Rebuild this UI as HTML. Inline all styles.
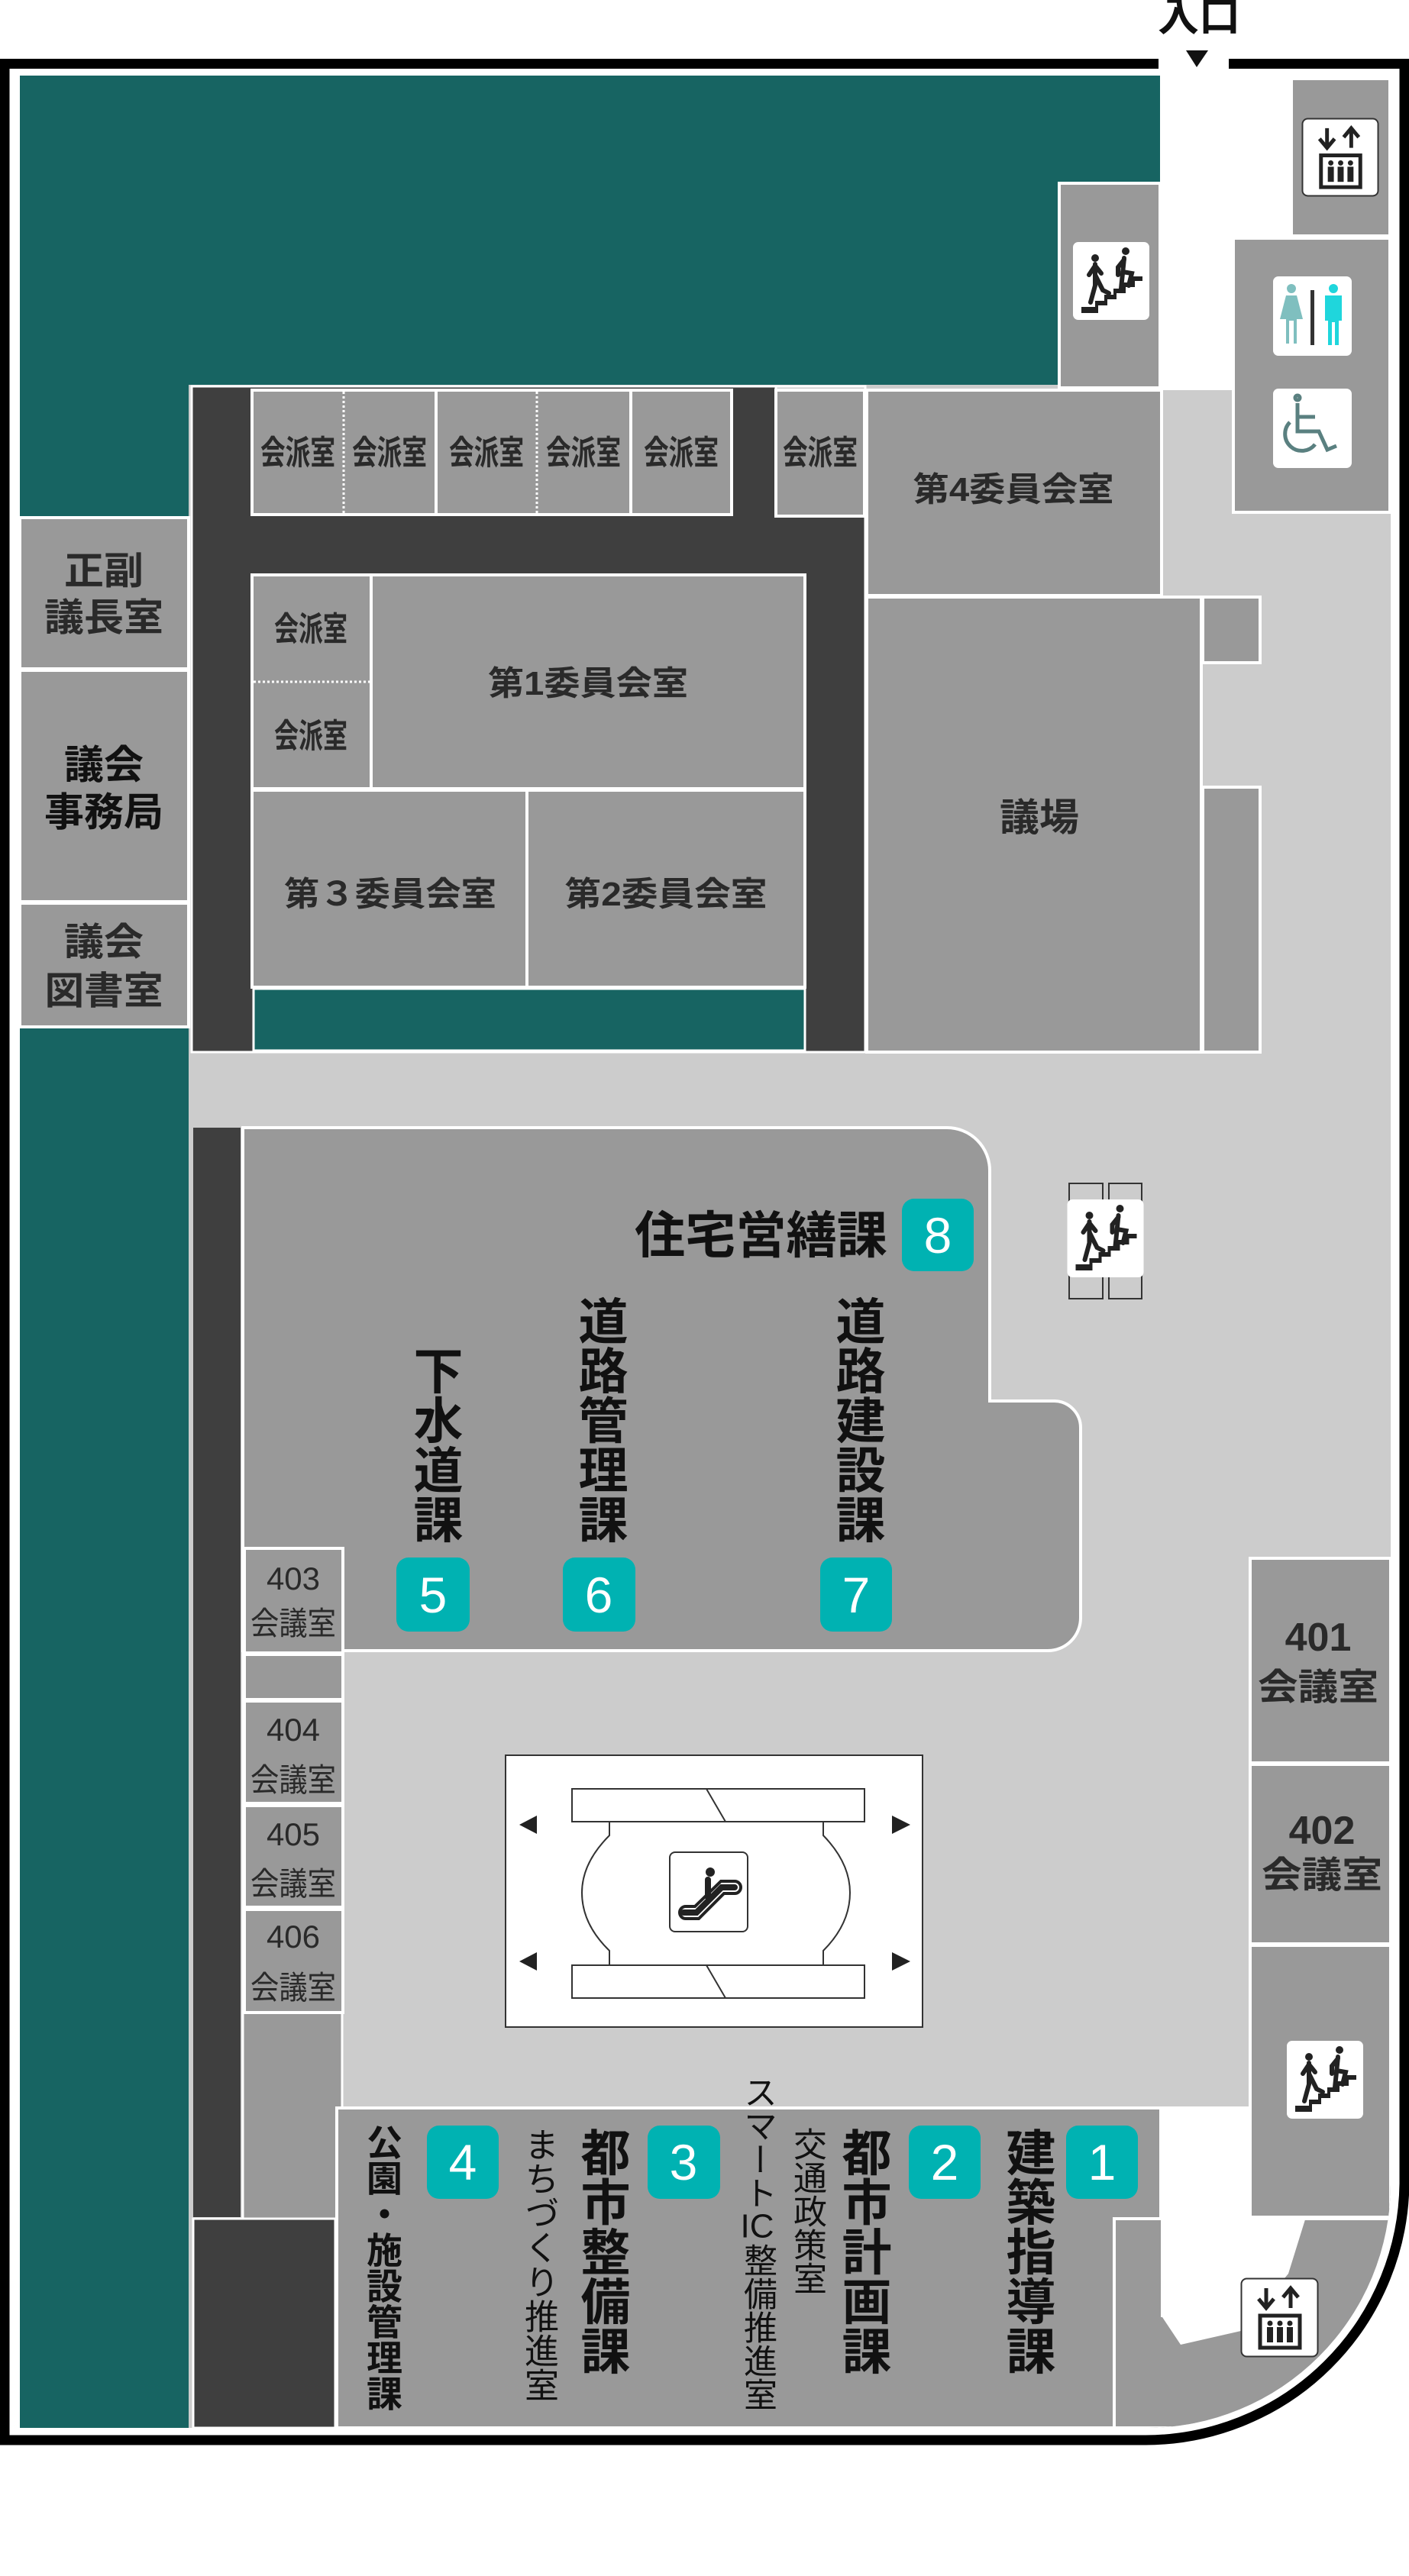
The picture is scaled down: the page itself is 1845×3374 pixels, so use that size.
<!DOCTYPE html>
<html><head><meta charset="utf-8">
<style>
html,body{margin:0;padding:0;background:#fff;}
#wrap{position:relative;width:1845px;height:3374px;overflow:hidden;font-family:"Liberation Sans","Noto Sans CJK JP",sans-serif;}
svg{position:absolute;left:0;top:0;}
svg text{font-family:"Liberation Sans","Noto Sans CJK JP",sans-serif;}
.v{position:absolute;writing-mode:vertical-rl;color:#111;font-weight:bold;line-height:1;white-space:nowrap;}
.tcy{text-combine-upright:all;}
</style></head><body><div id="wrap">
<svg width="1845" height="3374" viewBox="0 0 1845 3374" xmlns="http://www.w3.org/2000/svg">
<defs>
<clipPath id="cl"><path d="M26,99 H1821 V2860 A320,320 0 0 1 1501,3180 H26 Z"/></clipPath>
<symbol id="stair" viewBox="0 0 102 104">
<rect x="1" y="1" width="100" height="102" rx="7" fill="#fff"/>
<path d="M12,94 V86 H30 V78 H42 V70 H54 V62 H66 V54 H78 V46 H92 V52 H82 V60 H70 V68 H58 V76 H46 V84 H34 V94 Z" fill="#222"/>
<circle cx="30" cy="22" r="5" fill="#222"/><circle cx="70" cy="13" r="5" fill="#222"/>
<path d="M30,30 L30,58 L24,80 M30,44 L40,64 L48,68 M30,32 L22,44 M30,32 L38,42" stroke="#222" stroke-width="6" fill="none" stroke-linecap="round"/>
<path d="M68,22 L64,62 M66,40 L78,42 L74,58 M68,24 L60,34 L60,44" stroke="#222" stroke-width="6" fill="none" stroke-linecap="round"/>
</symbol>
<symbol id="elev" viewBox="0 0 103 105">
<rect x="1.5" y="1.5" width="100" height="102" rx="7" fill="#fff" stroke="#333" stroke-width="2"/>
<path d="M34,14 V38 M24,28 L34,40 L44,28 M66,40 V16 M56,26 L66,14 L76,26" stroke="#222" stroke-width="5" fill="none"/>
<rect x="26" y="50" width="52" height="42" fill="none" stroke="#222" stroke-width="5"/>
<g fill="#222"><circle cx="39" cy="60" r="3.5"/><circle cx="52" cy="60" r="3.5"/><circle cx="65" cy="60" r="3.5"/>
<rect x="35" y="65" width="8" height="20"/><rect x="48" y="65" width="8" height="20"/><rect x="61" y="65" width="8" height="20"/></g>
</symbol>
</defs>

<g clip-path="url(#cl)">
<rect x="0" y="0" width="1845" height="3374" fill="#fff"/>
<rect x="247" y="504" width="1574" height="2676" fill="#cccccc"/>
<rect x="26" y="99" width="1493" height="405" fill="#176462"/>
<rect x="26" y="99" width="221" height="577" fill="#176462"/>
<rect x="26" y="1347" width="221" height="1833" fill="#176462"/>
<rect x="1519" y="99" width="96" height="412" fill="#fff"/>
<rect x="1615" y="99" width="206" height="213" fill="#fff"/>
<rect x="1691" y="103" width="129" height="206" fill="#999" stroke="#fff" stroke-width="4"/>
<rect x="1615" y="312" width="205" height="359" fill="#999" stroke="#fff" stroke-width="4"/>
<rect x="1387" y="240" width="132" height="268" fill="#999" stroke="#fff" stroke-width="4"/>
<g fill="#999" stroke="#fff" stroke-width="4">
<rect x="26" y="678" width="221" height="198"/>
<rect x="26" y="878" width="221" height="303"/>
<rect x="26" y="1183" width="221" height="162"/>
</g>
<rect x="251" y="506" width="765" height="170" fill="#3f3f3f" stroke="#fff" stroke-width="3"/>
<rect x="251" y="674" width="882" height="704" fill="#3f3f3f"/>
<rect x="251" y="506" width="882" height="872" fill="none" stroke="#fff" stroke-width="3"/>
<g fill="#999" stroke="#fff" stroke-width="4">
<rect x="330" y="511" width="241" height="163"/>
<rect x="571" y="511" width="255" height="163"/>
<rect x="826" y="511" width="132" height="163"/>
<rect x="1016" y="511" width="116" height="165"/>
<rect x="1135" y="511" width="386" height="269"/>
<rect x="330" y="753" width="156" height="280"/>
<rect x="486" y="753" width="568" height="280"/>
<rect x="330" y="1035" width="360" height="258"/>
<rect x="690" y="1035" width="364" height="258"/>
<rect x="1135" y="782" width="438" height="596"/>
<rect x="1575" y="782" width="75" height="86"/>
<rect x="1575" y="1031" width="75" height="347"/>
</g>
<rect x="332" y="1295" width="722" height="81" fill="#176462" stroke="#fff" stroke-width="3"/>
<g stroke="#fff" stroke-width="3" stroke-dasharray="3,3">
<line x1="450" y1="513" x2="450" y2="673"/><line x1="703" y1="513" x2="703" y2="673"/>
<line x1="332" y1="893" x2="484" y2="893"/></g>

<rect x="253" y="1477" width="62" height="1427" fill="#3f3f3f"/>
<path d="M318,1477 H1240 A56,56 0 0 1 1296,1533 V1835 H1381 A35,35 0 0 1 1415,1870 V2119 A43,43 0 0 1 1372,2162 H318 Z" fill="#999" stroke="#fff" stroke-width="4"/>
<rect x="318" y="2162" width="130" height="744" fill="#999" stroke="#fff" stroke-width="3"/>
<rect x="441" y="2761" width="1079" height="419" fill="#999" stroke="#fff" stroke-width="4"/>
<rect x="1459" y="2906" width="362" height="274" fill="#999" stroke="#fff" stroke-width="4"/>
<path d="M1520,2759 H1637 V2904 H1710 L1687,2978 L1625,3053 L1546,3071 L1522,3035 H1520 Z" fill="#fff"/>
<rect x="253" y="2906" width="186" height="274" fill="#3f3f3f" stroke="#fff" stroke-width="3"/>
<g fill="#999" stroke="#fff" stroke-width="4">
<rect x="320" y="2028" width="129" height="137"/>
<rect x="320" y="2167" width="129" height="59"/>
<rect x="320" y="2228" width="129" height="134"/>
<rect x="320" y="2365" width="129" height="133"/>
<rect x="320" y="2501" width="129" height="135"/>
<rect x="1637" y="2041" width="184" height="268"/>
<rect x="1637" y="2311" width="184" height="235"/>
<rect x="1637" y="2548" width="184" height="356"/>
</g>
</g>

<path d="M0,83.5 H1517 M1609,83.5 H1839 V2860 A340,340 0 0 1 1500,3196 H6 V83.5" fill="none" stroke="#000" stroke-width="13"/>
<text x="1570" y="40" font-size="54" font-weight="bold" text-anchor="middle" fill="#111">入口</text>
<path d="M1553,66 H1582 L1567,88 Z" fill="#111"/>

<rect x="662" y="2299" width="546" height="356" fill="#fff" stroke="#333" stroke-width="2"/>
<rect x="749" y="2343" width="383" height="43" fill="#fff" stroke="#333" stroke-width="2"/>
<rect x="749" y="2574" width="383" height="43" fill="#fff" stroke="#333" stroke-width="2"/>
<path d="M925,2343 L950,2386 M925,2574 L950,2617" stroke="#333" stroke-width="2"/>
<path d="M798,2386 V2404 Q762,2440 762,2479 Q762,2520 798,2555 V2574" fill="none" stroke="#333" stroke-width="2"/>
<path d="M1078,2386 V2404 Q1113,2440 1113,2479 Q1113,2520 1078,2555 V2574" fill="none" stroke="#333" stroke-width="2"/>
<path d="M680,2390 L703,2378 V2402 Z M680,2569 L703,2557 V2581 Z M1192,2390 L1168,2378 V2402 Z M1192,2569 L1168,2557 V2581 Z" fill="#222"/>
<rect x="877" y="2426" width="102" height="104" rx="7" fill="#fff" stroke="#333" stroke-width="2"/>
<circle cx="930" cy="2452" r="6" fill="#222"/>
<path d="M895,2505 H912 L945,2472 H962 M927,2462 V2485" stroke="#222" stroke-width="8" fill="none" stroke-linecap="round"/>
<path d="M890,2505 a8,8 0 0 0 8,8 H915 L948,2480 H962 a8,8 0 0 0 0,-16 H944 L910,2497 H898 a8,8 0 0 0 -8,8Z" fill="none" stroke="#222" stroke-width="4"/>

<rect x="1400" y="1550" width="44" height="151" fill="none" stroke="#333" stroke-width="2"/>
<rect x="1452" y="1550" width="43" height="151" fill="none" stroke="#333" stroke-width="2"/>

<use href="#stair" x="1404" y="316" width="102" height="104"/>
<use href="#stair" x="1396" y="1570" width="103" height="104"/>
<use href="#stair" x="1684" y="2672" width="102" height="104"/>
<use href="#elev" x="1704" y="154" width="102" height="104"/>
<use href="#elev" x="1624" y="2983" width="103" height="105"/>
<rect x="1667" y="362" width="103" height="104" rx="7" fill="#fff"/>
<g fill="#7fbfbf"><circle cx="1691" cy="378" r="6"/><path d="M1684,387 H1698 L1706,418 H1698 V450 H1694 V420 H1688 V450 H1684 V418 H1676 Z"/></g>
<rect x="1716" y="380" width="5" height="72" fill="#333"/>
<g fill="#1fd6dc"><circle cx="1746" cy="378" r="6"/><path d="M1735,387 H1757 V420 H1753 V452 H1748 V422 H1744 V452 H1739 V420 H1735 Z"/></g>
<rect x="1667" y="509" width="103" height="104" rx="7" fill="#fff"/>
<g stroke="#5a8080" stroke-width="5" fill="none"><circle cx="1699" cy="521" r="3"/><path d="M1699,528 V565 H1727 L1738,589 L1750,584"/><path d="M1699,546 H1722"/><path d="M1689,553 A22,22 0 1 0 1722,582"/></g>

<g fill="#00b2b2">
<rect x="1181" y="1570" width="94" height="95" rx="16"/>
<rect x="519" y="2040" width="96" height="97" rx="16"/>
<rect x="737" y="2040" width="95" height="97" rx="16"/>
<rect x="1074" y="2040" width="94" height="97" rx="16"/>
<rect x="1396" y="2784" width="94" height="96" rx="16"/>
<rect x="1190" y="2784" width="94" height="96" rx="16"/>
<rect x="848" y="2784" width="95" height="96" rx="16"/>
<rect x="559" y="2784" width="94" height="96" rx="16"/>
</g>
<g fill="#fff" font-size="66" text-anchor="middle">
<text x="1228" y="1641">8</text><text x="567" y="2112">5</text><text x="784" y="2112">6</text><text x="1121" y="2112">7</text>
<text x="1443" y="2855">1</text><text x="1237" y="2855">2</text><text x="895" y="2855">3</text><text x="606" y="2855">4</text>
</g>

<g fill="#2a2a2a" font-weight="bold" text-anchor="middle" font-size="44">
<text x="390" y="608" textLength="98" lengthAdjust="spacingAndGlyphs">会派室</text>
<text x="510" y="608" textLength="98" lengthAdjust="spacingAndGlyphs">会派室</text>
<text x="637" y="608" textLength="98" lengthAdjust="spacingAndGlyphs">会派室</text>
<text x="764" y="608" textLength="98" lengthAdjust="spacingAndGlyphs">会派室</text>
<text x="892" y="608" textLength="98" lengthAdjust="spacingAndGlyphs">会派室</text>
<text x="1074" y="608" textLength="98" lengthAdjust="spacingAndGlyphs">会派室</text>
<text x="407" y="839" textLength="96" lengthAdjust="spacingAndGlyphs">会派室</text>
<text x="407" y="979" textLength="96" lengthAdjust="spacingAndGlyphs">会派室</text>
<text x="770" y="910" textLength="262" lengthAdjust="spacingAndGlyphs">第1委員会室</text>
<text x="1327" y="656" textLength="263" lengthAdjust="spacingAndGlyphs">第4委員会室</text>
<text x="511" y="1186" textLength="278" lengthAdjust="spacingAndGlyphs">第３委員会室</text>
<text x="872" y="1186" textLength="265" lengthAdjust="spacingAndGlyphs">第2委員会室</text>
<text x="1361" y="1088" font-size="50" textLength="104" lengthAdjust="spacingAndGlyphs">議場</text>
<text x="136" y="765" font-size="50" textLength="104" lengthAdjust="spacingAndGlyphs">正副</text>
<text x="136" y="826" font-size="50" textLength="156" lengthAdjust="spacingAndGlyphs">議長室</text>
<text x="136" y="1251" font-size="50" textLength="104" lengthAdjust="spacingAndGlyphs">議会</text>
<text x="136" y="1315" font-size="50" textLength="155" lengthAdjust="spacingAndGlyphs">図書室</text>
<text x="1726" y="2162" font-size="52">401</text>
<text x="1726" y="2226" font-size="48" textLength="158" lengthAdjust="spacingAndGlyphs">会議室</text>
<text x="1731" y="2415" font-size="52">402</text>
<text x="1731" y="2472" font-size="48" textLength="158" lengthAdjust="spacingAndGlyphs">会議室</text>
</g>
<text x="136" y="1020" font-size="52" font-weight="bold" fill="#111" text-anchor="middle" textLength="104" lengthAdjust="spacingAndGlyphs">議会</text>
<text x="136" y="1082" font-size="52" font-weight="bold" fill="#111" text-anchor="middle" textLength="156" lengthAdjust="spacingAndGlyphs">事務局</text>
<g fill="#2a2a2a" text-anchor="middle" font-size="42">
<text x="384" y="2082">403</text><text x="384" y="2141" textLength="112" lengthAdjust="spacingAndGlyphs">会議室</text>
<text x="384" y="2280">404</text><text x="384" y="2346" textLength="112" lengthAdjust="spacingAndGlyphs">会議室</text>
<text x="384" y="2417">405</text><text x="384" y="2482" textLength="112" lengthAdjust="spacingAndGlyphs">会議室</text>
<text x="384" y="2551">406</text><text x="384" y="2618" textLength="112" lengthAdjust="spacingAndGlyphs">会議室</text>
</g>
<text x="831" y="1641" font-size="66" font-weight="bold" fill="#111" textLength="331" lengthAdjust="spacingAndGlyphs">住宅営繕課</text>
</svg>

<div class="v" style="left:536px;top:1762px;font-size:65px;">下水道課</div>
<div class="v" style="left:752px;top:1697px;font-size:65px;">道路管理課</div>
<div class="v" style="left:1089px;top:1697px;font-size:65px;">道路建設課</div>
<div class="v" style="left:1312px;top:2786px;font-size:65px;">建築指導課</div>
<div class="v" style="left:1097px;top:2786px;font-size:65px;">都市計画課</div>
<div class="v" style="left:1034px;top:2786px;font-size:44px;font-weight:normal;">交通政策室</div>
<div class="v" style="left:969px;top:2718px;font-size:44px;font-weight:normal;">スマート<span class="tcy">IC</span>整備推進室</div>
<div class="v" style="left:755px;top:2786px;font-size:65px;">都市整備課</div>
<div class="v" style="left:683px;top:2786px;font-size:45px;font-weight:normal;">まちづくり推進室</div>
<div class="v" style="left:476px;top:2782px;font-size:47px;">公園・施設管理課</div>
</div></body></html>
